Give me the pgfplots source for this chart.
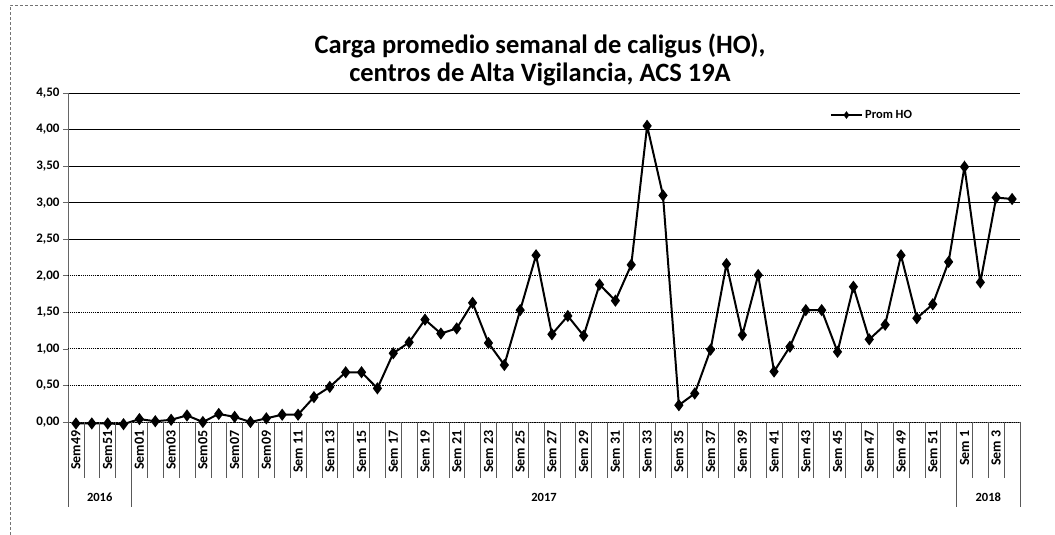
\documentclass[border=0pt]{standalone}
\usepackage{fontspec}
\setmainfont{Carlito}
\usepackage{pgfplots}
\pgfplotsset{compat=1.18}
\pgfplotstableread{
x y
0 -0.02
1 -0.02
2 -0.02
3 -0.03
4 0.04
5 0.01
6 0.03
7 0.09
8 0.00
9 0.11
10 0.07
11 0.00
12 0.05
13 0.10
14 0.10
15 0.34
16 0.48
17 0.68
18 0.68
19 0.46
20 0.94
21 1.09
22 1.40
23 1.21
24 1.28
25 1.63
26 1.08
27 0.78
28 1.53
29 2.28
30 1.20
31 1.45
32 1.18
33 1.88
34 1.66
35 2.15
36 4.05
37 3.10
38 0.23
39 0.39
40 0.99
41 2.16
42 1.19
43 2.01
44 0.69
45 1.03
46 1.53
47 1.53
48 0.96
49 1.85
50 1.13
51 1.33
52 2.28
53 1.42
54 1.61
55 2.19
56 3.49
57 1.91
58 3.07
59 3.05
}\datatable
\begin{document}
\begin{tikzpicture}[x=1pt,y=1pt]
\useasboundingbox (0,0) rectangle (1055,535);
\draw[black!55, densely dashed, line width=0.6pt] (10,0) -- (10,530) -- (1055,530);
\node[font=\bfseries\fontsize{26.5}{30}\selectfont, anchor=base] at (540,481) {Carga promedio semanal de caligus (HO),};
\node[font=\bfseries\fontsize{26.5}{30}\selectfont, anchor=base] at (540,453) {centros de Alta Vigilancia, ACS 19A};
\begin{axis}[
  at={(68pt,113pt)}, anchor=south west,
  width=952pt, height=329pt, scale only axis,
  xmin=-0.5, xmax=59.5, ymin=0, ymax=4.5,
  clip=false,
  axis x line*=bottom, axis y line*=left,
  axis line style={black!60, line width=0.7pt},
  xtick={0,2,...,58},
  xticklabels={Sem49,Sem51,Sem01,Sem03,Sem05,Sem07,Sem09,Sem 11,Sem 13,Sem 15,Sem 17,Sem 19,Sem 21,Sem 23,Sem 25,Sem 27,Sem 29,Sem 31,Sem 33,Sem 35,Sem 37,Sem 39,Sem 41,Sem 43,Sem 45,Sem 47,Sem 49,Sem 51,Sem 1,Sem 3},
  xtick style={draw=none},
  xticklabel style={rotate=90, anchor=east, font=\bfseries\fontsize{14}{15}\selectfont},
  ytick={2.5,3,3.5,4,4.5},
  extra y ticks={0,0.5,1,1.5,2},
  ymajorgrids,
  major grid style={black, line width=0.9pt},
  extra y tick style={major grid style={black, densely dotted, line width=0.9pt}},
  ytick style={black!60, line width=0.6pt},
  tick align=outside, major tick length=5pt,
  yticklabel style={font=\bfseries\fontsize{13}{15}\selectfont},
  /pgf/number format/.cd, fixed, fixed zerofill, precision=2, use comma, assume math mode=true,
  /pgfplots/.cd,
  legend style={at={(0.80,0.933)}, anchor=west, draw=none, fill=none,
    font=\bfseries\fontsize{12.5}{14}\selectfont, inner sep=0pt},
  legend image code/.code={\draw[mark repeat=2,mark phase=2,#1, mark size=2.2pt] plot coordinates {(0cm,0cm) (0.55cm,0cm) (1.1cm,0cm)};},
]
\addplot[black, line width=2pt, mark=diamond*, mark size=4.5pt, mark options={solid}] table[x=x,y=y] {\datatable};
\addlegendentry{Prom HO}
\pgfplotsinvokeforeach{-0.5,0.5,...,59.5}{
  \draw[black!65, line width=0.6pt] (axis cs:#1,0) -- ([yshift=-56pt]axis cs:#1,0);
}
\pgfplotsinvokeforeach{-0.5,3.5,55.5,59.5}{
  \draw[black!65, line width=0.6pt] (axis cs:#1,0) -- ([yshift=-85pt]axis cs:#1,0);
}
\node[font=\bfseries\fontsize{12.5}{14}\selectfont, yshift=-75pt] at (axis cs:1.5,0) {2016};
\node[font=\bfseries\fontsize{12.5}{14}\selectfont, yshift=-75pt] at (axis cs:29.5,0) {2017};
\node[font=\bfseries\fontsize{12.5}{14}\selectfont, yshift=-75pt] at (axis cs:57.5,0) {2018};
\end{axis}
\end{tikzpicture}
\end{document}
